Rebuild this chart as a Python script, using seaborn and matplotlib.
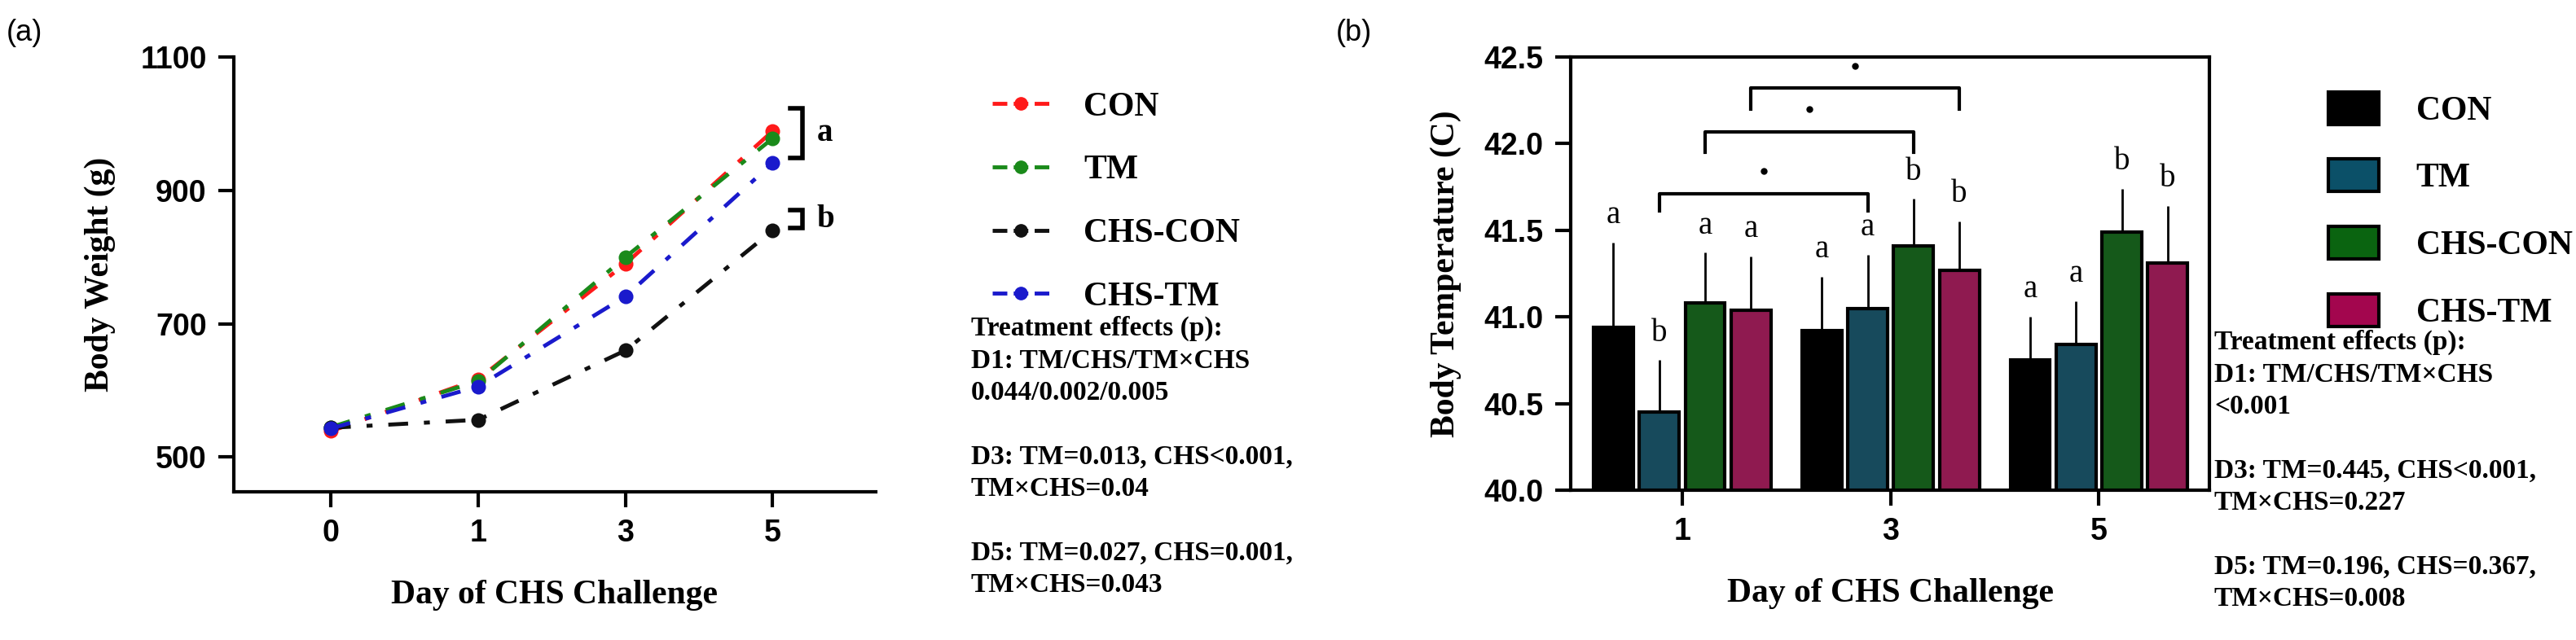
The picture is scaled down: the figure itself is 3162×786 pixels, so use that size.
import matplotlib
matplotlib.use("Agg")
import matplotlib.pyplot as plt
import seaborn as sns
import pandas as pd
import numpy as np
from matplotlib.lines import Line2D
from matplotlib.patches import Patch

# ---- data ----
groups = ["CON", "TM", "CHS-CON", "CHS-TM"]
days_a = ["0", "1", "3", "5"]
bw_con = [539, 617, 790, 989]
bw_tm = [545, 614, 800, 978]
bw_chscon = [544, 556, 660, 840]
bw_chstm = [543, 606, 741, 941]
line_colors = ["#ff1a1a", "#1a8a1a", "#111111", "#1a1acc"]

days_b = ["1", "3", "5"]
bt_con = [40.94, 40.92, 40.75]
bt_tm = [40.45, 41.05, 40.84]
bt_chscon = [41.08, 41.41, 41.49]
bt_chstm = [41.04, 41.27, 41.31]
sd_con = [0.49, 0.31, 0.25]
sd_tm = [0.30, 0.31, 0.25]
sd_chscon = [0.29, 0.27, 0.25]
sd_chstm = [0.31, 0.28, 0.33]
letters = [["a", "a", "a"], ["b", "a", "a"], ["a", "b", "b"], ["a", "b", "b"]]
bar_colors = ["#000000", "#0b5068", "#0a6410", "#a3064e"]

W, H = 3162, 786
fig = plt.figure(figsize=(W / 100, H / 100), dpi=100)
serif = "Liberation Serif"
sans = "Liberation Sans"

def fx(x): return x / W
def fy(y): return 1 - y / H

# ---- panel a ----
ax1 = fig.add_axes([fx(287), fy(604), fx(1075 - 287), (604 - 70) / H])
rows = []
for g, vals in zip(groups, [bw_con, bw_tm, bw_chscon, bw_chstm]):
    for i, (d, v) in enumerate(zip(days_a, vals)):
        rows.append({"pos": i, "day": d, "group": g, "bw": v})
dfa = pd.DataFrame(rows)
sns.lineplot(data=dfa, x="pos", y="bw", hue="group", hue_order=groups,
             palette=line_colors, marker="o", markersize=13, markeredgewidth=0,
             dashes=False, linewidth=3.5, ax=ax1, legend=False)
for ln in ax1.get_lines():
    ln.set_dashes((5, 4, 1.5, 4))
ax1.set_xlim(-0.66, 3.70)
ax1.set_ylim(448, 1100)
ax1.set_xticks(range(4))
ax1.set_xticklabels(days_a)
ax1.set_yticks([500, 700, 900, 1100])
for s in ["top", "right"]:
    ax1.spines[s].set_visible(False)
for s in ["left", "bottom"]:
    ax1.spines[s].set_linewidth(3)
ax1.spines["left"].set_bounds(448, 1100)
ax1.tick_params(width=3, length=14, labelsize=27, pad=10)
for t in ax1.get_xticklabels() + ax1.get_yticklabels():
    t.set_fontfamily(sans); t.set_fontweight("bold")
ax1.set_xlabel("Day of CHS Challenge", fontfamily=serif, fontweight="bold", fontsize=30, labelpad=28)
ax1.set_ylabel("Body Weight (g)", fontfamily=serif, fontweight="bold", fontsize=30, labelpad=22)

def bracket(ax, x, y0, y1):
    ax.plot([x, x + 0.08, x + 0.08, x], [y1, y1, y0, y0], color="black", lw=4,
            clip_on=False, solid_joinstyle="miter")
bracket(ax1, 3.12, 949, 1023)
ax1.text(3.3, 986, "a", fontfamily=serif, fontweight="bold", fontsize=28, va="center")
bracket(ax1, 3.12, 843, 871)
ax1.text(3.3, 857, "b", fontfamily=serif, fontweight="bold", fontsize=28, va="center")

handles_a = [Line2D([], [], color=c, linestyle="--", lw=3.5, marker="o", markersize=11) for c in line_colors]
fig.legend(handles_a, groups, loc="upper left", bbox_to_anchor=(fx(1180), fy(75)),
           frameon=False, prop={"family": serif, "weight": "bold", "size": 30},
           handlelength=1.7, labelspacing=0.95, handletextpad=1.0)

txt_a = ("Treatment effects (p):\nD1: TM/CHS/TM×CHS\n0.044/0.002/0.005\n\n"
         "D3: TM=0.013, CHS<0.001,\nTM×CHS=0.04\n\nD5: TM=0.027, CHS=0.001,\nTM×CHS=0.043")
fig.text(fx(1192), fy(388), txt_a, fontfamily=serif, fontweight="bold", fontsize=24,
         va="top", ha="left", linespacing=1.35)

fig.text(fx(8), fy(40), "(a)", fontfamily=sans, fontsize=26, va="center")
fig.text(fx(1640), fy(40), "(b)", fontfamily=sans, fontsize=26, va="center")

# ---- panel b ----
ax2 = fig.add_axes([fx(1928), fy(602), fx(2712 - 1928), (602 - 70) / H])
rows = []
for g, vals, sds in zip(groups, [bt_con, bt_tm, bt_chscon, bt_chstm], [sd_con, sd_tm, sd_chscon, sd_chstm]):
    for d, v, s in zip(days_b, vals, sds):
        rows.append({"day": d, "group": g, "bt": v, "sd": s})
dfb = pd.DataFrame(rows)
sns.barplot(data=dfb, x="day", y="bt", hue="group", hue_order=groups, order=days_b,
            palette=bar_colors, errorbar=None, width=0.88, gap=0.13,
            edgecolor="black", linewidth=3, ax=ax2, legend=False)
ax2.set_ylim(40.0, 42.5)
ax2.set_xlim(-0.535, 2.53)
bars = [p for p in ax2.patches if p.get_height() > 0][:12]
for k, p in enumerate(bars):
    gi, di = divmod(k, 3)
    xc = p.get_x() + p.get_width() / 2
    top = p.get_y() + p.get_height()
    sd = dfb[(dfb.group == groups[gi]) & (dfb.day == days_b[di])].sd.iloc[0]
    ax2.errorbar(xc, top, yerr=[[0], [sd]], color="black", lw=2, capsize=0)
    ax2.text(xc, top + sd + 0.07, letters[gi][di], ha="center", va="bottom",
             fontfamily=serif, fontsize=28)
for s in ax2.spines.values():
    s.set_linewidth(3)
ax2.set_yticks([40.0, 40.5, 41.0, 41.5, 42.0, 42.5])
ax2.set_yticklabels(["40.0", "40.5", "41.0", "41.5", "42.0", "42.5"])
ax2.tick_params(width=3, length=14, labelsize=27, pad=10)
for t in ax2.get_xticklabels() + ax2.get_yticklabels():
    t.set_fontfamily(sans); t.set_fontweight("bold")
ax2.set_xlabel("Day of CHS Challenge", fontfamily=serif, fontweight="bold", fontsize=30, labelpad=28)
ax2.set_ylabel("Body Temperature (C)", fontfamily=serif, fontweight="bold", fontsize=30, labelpad=20)

def sig(ax, b1, b2, y, drop):
    x1 = b1.get_x() + b1.get_width() / 2
    x2 = b2.get_x() + b2.get_width() / 2
    ax.plot([x1, x1, x2, x2], [y - drop, y, y, y - drop], color="black", lw=3)
    ax.plot([(x1 + x2) / 2], [y + 0.13], marker="o", markersize=5, color="black", clip_on=False)
sig(ax2, bars[3], bars[4], 41.71, 0.1)
sig(ax2, bars[6], bars[7], 42.07, 0.12)
sig(ax2, bars[9], bars[10], 42.32, 0.12)

handles_b = [Patch(facecolor=c, edgecolor="black", linewidth=3) for c in bar_colors]
fig.legend(handles_b, groups, loc="upper left", bbox_to_anchor=(fx(2820), fy(75)),
           frameon=False, prop={"family": serif, "weight": "bold", "size": 30},
           handlelength=1.5, handleheight=1.1, labelspacing=0.95, handletextpad=1.1)

txt_b = ("Treatment effects (p):\nD1: TM/CHS/TM×CHS\n<0.001\n\n"
         "D3: TM=0.445, CHS<0.001,\nTM×CHS=0.227\n\nD5: TM=0.196, CHS=0.367,\nTM×CHS=0.008")
fig.text(fx(2718), fy(405), txt_b, fontfamily=serif, fontweight="bold", fontsize=24,
         va="top", ha="left", linespacing=1.35)

fig.savefig("out.png", dpi=100)
